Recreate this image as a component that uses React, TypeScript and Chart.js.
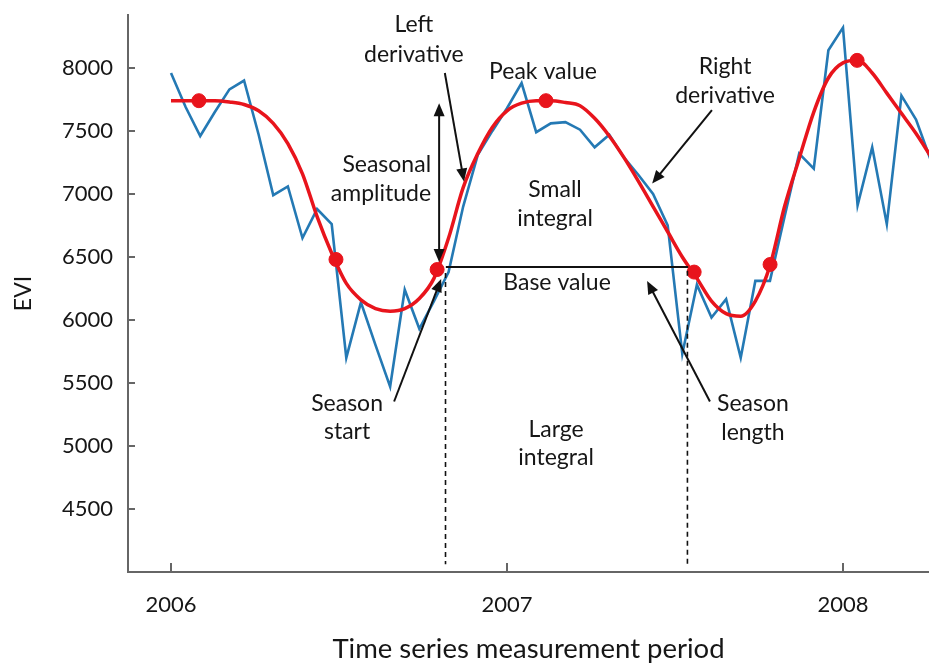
import React, { useEffect, useRef } from 'react';
import { Chart, registerables } from 'chart.js';

Chart.register(...registerables);

// ---- data ----
const startYear = 2006;
const periodsPerYear = 23; // 16-day composites

const eviObserved = [
  7960, 7690, 7460, 7650, 7830, 7900, 7470, 6990, 7060, 6650, 6880, 6760, 5700, 6140, 5800, 5470,
  6240, 5930, 6150, 6380, 6900, 7310, 7500, 7680, 7880, 7490, 7560, 7570, 7510, 7370, 7470, 7290,
  7150, 7000, 6750, 5730, 6280, 6020, 6165, 5700, 6310, 6310, 6820, 7320, 7200, 8140, 8320, 6910,
  7370, 6760, 7780, 7590, 7270,
];

const eviFitted = [
  7740, 7740, 7740, 7740, 7730, 7710, 7660, 7560, 7400, 7160, 6820, 6530, 6290, 6160, 6090, 6070,
  6090, 6170, 6330, 6650, 7050, 7320, 7530, 7660, 7720, 7740, 7740, 7725, 7700, 7600, 7460, 7290,
  7100, 6900, 6700, 6500, 6330, 6150, 6050, 6030, 6150, 6430, 6900, 7280, 7650, 7920, 8040, 8060,
  7960, 7800, 7640, 7480, 7300,
];

const markerYears = [2006.083, 2006.491, 2006.792, 2007.116, 2007.557, 2007.783, 2008.042];
const markerValues = [7740, 6480, 6400, 7740, 6380, 6440, 8060];

const yTickValues = [4500, 5000, 5500, 6000, 6500, 7000, 7500, 8000];
const xTickYears = [2006, 2007, 2008];

const xMin = 2005.872;
const xMax = 2008.256;
const yMin = 4000;
const yMax = 8420;

const FONT = 'Lato, "Open Sans", sans-serif';
const TEXT_COLOR = '#161616';
const AXIS_COLOR = '#666666';

// annotation texts in data coordinates (year, EVI)
const labels = [
  { text: 'Left', x: 2006.723, y: 8343, align: 'center' },
  { text: 'derivative', x: 2006.723, y: 8104, align: 'center' },
  { text: 'Peak value', x: 2007.107, y: 7968, align: 'center' },
  { text: 'Right', x: 2007.649, y: 8008, align: 'center' },
  { text: 'derivative', x: 2007.649, y: 7777, align: 'center' },
  { text: 'Seasonal', x: 2006.774, y: 7234, align: 'right' },
  { text: 'amplitude', x: 2006.774, y: 7003, align: 'right' },
  { text: 'Small', x: 2007.143, y: 7035, align: 'center' },
  { text: 'integral', x: 2007.143, y: 6804, align: 'center' },
  { text: 'Base value', x: 2007.149, y: 6294, align: 'center' },
  { text: 'Season', x: 2006.524, y: 5337, align: 'center' },
  { text: 'start', x: 2006.524, y: 5113, align: 'center' },
  { text: 'Large', x: 2007.146, y: 5129, align: 'center' },
  { text: 'integral', x: 2007.146, y: 4906, align: 'center' },
  { text: 'Season', x: 2007.732, y: 5337, align: 'center' },
  { text: 'length', x: 2007.732, y: 5105, align: 'center' },
];

const arrows = [
  { from: [2006.815, 7960], to: [2006.872, 7099] }, // left derivative
  { from: [2007.610, 7665], to: [2007.432, 7083] }, // right derivative
  { from: [2006.664, 5353], to: [2006.804, 6326] }, // season start
  { from: [2007.604, 5353], to: [2007.417, 6310] }, // season length
];

const amplitude = { x: 2006.798, top: 7720, bottom: 6460 };
const baseLine = { from: 2006.818, to: 2007.539, value: 6420 };
const dashedLines = [
  { x: 2006.817, top: 6373, bottom: 4061 },
  { x: 2007.537, top: 6390, bottom: 4061 },
];

function drawArrowHead(ctx: CanvasRenderingContext2D, x1: number, y1: number, x2: number, y2: number) {
  const ang = Math.atan2(y2 - y1, x2 - x1);
  const len = 13;
  const half = 5.5;
  ctx.beginPath();
  ctx.moveTo(x2, y2);
  ctx.lineTo(x2 - len * Math.cos(ang) + half * Math.sin(ang), y2 - len * Math.sin(ang) - half * Math.cos(ang));
  ctx.lineTo(x2 - len * Math.cos(ang) - half * Math.sin(ang), y2 - len * Math.sin(ang) + half * Math.cos(ang));
  ctx.closePath();
  ctx.fill();
}

const annotationPlugin = {
  id: 'evi-annotations',
  afterDatasetsDraw(chart: any) {
    const { ctx } = chart;
    const xs = chart.scales.x;
    const ys = chart.scales.y;
    const px = (v: number) => xs.getPixelForValue(v);
    const py = (v: number) => ys.getPixelForValue(v);
    ctx.save();
    ctx.strokeStyle = '#111';
    ctx.fillStyle = '#111';
    ctx.lineWidth = 2;

    // dashed lines
    ctx.setLineDash([5, 4]);
    ctx.lineWidth = 1.6;
    for (const d of dashedLines) {
      ctx.beginPath();
      ctx.moveTo(px(d.x), py(d.top));
      ctx.lineTo(px(d.x), py(d.bottom));
      ctx.stroke();
    }
    ctx.setLineDash([]);

    // base line
    ctx.lineWidth = 2;
    ctx.beginPath();
    ctx.moveTo(px(baseLine.from), py(baseLine.value));
    ctx.lineTo(px(baseLine.to), py(baseLine.value));
    ctx.stroke();

    // amplitude double arrow
    const ax = px(amplitude.x);
    const at = py(amplitude.top);
    const ab = py(amplitude.bottom);
    ctx.beginPath();
    ctx.moveTo(ax, at + 8);
    ctx.lineTo(ax, ab - 8);
    ctx.stroke();
    drawArrowHead(ctx, ax, ab, ax, at);
    drawArrowHead(ctx, ax, at, ax, ab);

    // arrows
    for (const a of arrows) {
      const x1 = px(a.from[0]);
      const y1 = py(a.from[1]);
      const x2 = px(a.to[0]);
      const y2 = py(a.to[1]);
      const ang = Math.atan2(y2 - y1, x2 - x1);
      ctx.beginPath();
      ctx.moveTo(x1, y1);
      ctx.lineTo(x2 - 8 * Math.cos(ang), y2 - 8 * Math.sin(ang));
      ctx.stroke();
      drawArrowHead(ctx, x1, y1, x2, y2);
    }

    // texts
    ctx.fillStyle = TEXT_COLOR;
    ctx.font = `23px ${FONT}`;
    ctx.textBaseline = 'middle';
    for (const l of labels) {
      ctx.textAlign = l.align as CanvasTextAlign;
      ctx.fillText(l.text, px(l.x), py(l.y));
    }
    ctx.restore();
  },
  afterDraw(chart: any) {
    const { ctx, chartArea } = chart;
    const xs = chart.scales.x;
    const ys = chart.scales.y;
    ctx.save();
    ctx.strokeStyle = AXIS_COLOR;
    ctx.lineWidth = 2;
    for (const v of yTickValues) {
      const y = Math.round(ys.getPixelForValue(v));
      ctx.beginPath();
      ctx.moveTo(chartArea.left, y);
      ctx.lineTo(chartArea.left + 7, y);
      ctx.stroke();
    }
    for (const v of xTickYears) {
      const x = Math.round(xs.getPixelForValue(v));
      ctx.beginPath();
      ctx.moveTo(x, chartArea.bottom);
      ctx.lineTo(x, chartArea.bottom - 9);
      ctx.stroke();
    }
    ctx.restore();
  },
};

export default function App() {
  const canvasRef = useRef<HTMLCanvasElement | null>(null);

  useEffect(() => {
    if (!canvasRef.current) return;
    const dates = eviObserved.map((_, i) => startYear + i / periodsPerYear);
    const chart = new Chart(canvasRef.current, {
      type: 'line',
      data: {
        datasets: [
          {
            label: 'Key points',
            type: 'scatter',
            data: markerYears.map((yr, i) => ({ x: yr, y: markerValues[i] })),
            backgroundColor: '#e8141c',
            borderColor: '#e8141c',
            pointRadius: 7,
            pointHoverRadius: 7,
            showLine: false,
          },
          {
            label: 'Fitted',
            data: dates.map((d, i) => ({ x: d, y: eviFitted[i] })),
            borderColor: '#e8141c',
            borderWidth: 3.5,
            pointRadius: 0,
            cubicInterpolationMode: 'monotone',
            fill: false,
          },
          {
            label: 'Observed',
            data: dates.map((d, i) => ({ x: d, y: eviObserved[i] })),
            borderColor: '#2479b4',
            borderWidth: 2.6,
            pointRadius: 0,
            tension: 0,
            fill: false,
          },
        ],
      },
      options: {
        animation: false,
        responsive: false,
        devicePixelRatio: 1,
        events: [],
        layout: { autoPadding: false, padding: { top: 15, right: 0, left: 0, bottom: 0 } },
        plugins: {
          legend: { display: false },
          tooltip: { enabled: false },
          title: { display: false },
        },
        scales: {
          x: {
            type: 'linear',
            min: xMin,
            max: xMax,
            afterBuildTicks: (scale: any) => {
              scale.ticks = xTickYears.map((v) => ({ value: v }));
            },
            afterFit: (scale: any) => {
              scale.height = 91;
              scale.paddingLeft = 0;
              scale.paddingRight = 0;
            },
            ticks: {
              callback: (v: any) => String(v),
              font: { family: FONT, size: 22 },
              color: TEXT_COLOR,
              padding: 20,
              maxRotation: 0,
              autoSkip: false,
            },
            grid: { display: false, drawTicks: false },
            border: { display: true, color: AXIS_COLOR, width: 2 },
            title: {
              display: true,
              text: 'Time series measurement period',
              font: { family: FONT, size: 27.5, lineHeight: 1 },
              color: TEXT_COLOR,
              padding: { top: 0, bottom: 0 },
            },
          },
          y: {
            type: 'linear',
            min: yMin,
            max: yMax,
            afterBuildTicks: (scale: any) => {
              scale.ticks = yTickValues.map((v) => ({ value: v }));
            },
            afterFit: (scale: any) => {
              scale.width = 128;
              scale.paddingTop = 0;
              scale.paddingBottom = 0;
            },
            ticks: {
              callback: (v: any) => String(v),
              font: { family: FONT, size: 22 },
              color: TEXT_COLOR,
              padding: 15,
              autoSkip: false,
            },
            grid: { display: false, drawTicks: false },
            border: { display: true, color: AXIS_COLOR, width: 2 },
            title: {
              display: true,
              text: 'EVI',
              font: { family: FONT, size: 23, lineHeight: 1 },
              color: TEXT_COLOR,
              padding: { top: 12, bottom: 0 },
            },
          },
        },
      },
      plugins: [annotationPlugin],
    } as any);
    return () => chart.destroy();
  }, []);

  return (
    <div style={{ position: 'fixed', left: 0, top: 0, width: 929, height: 663, background: '#fff' }}>
      <canvas ref={canvasRef} width={929} height={663} style={{ display: 'block' }} />
    </div>
  );
}
